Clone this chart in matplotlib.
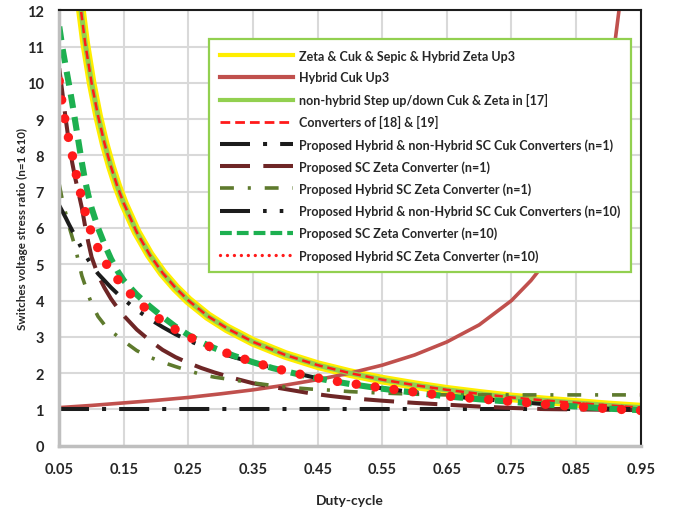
import matplotlib
matplotlib.use("Agg")
import matplotlib.pyplot as plt
from matplotlib.lines import Line2D

plt.rcParams['font.family'] = ['Lato', 'DejaVu Sans']
plt.rcParams['font.weight'] = 'bold'
plt.rcParams['axes.labelweight'] = 'bold'
plt.rcParams['lines.scale_dashes'] = False

# duty cycle grid used by the SC curves
duty = [0.05, 0.055, 0.06, 0.065, 0.07, 0.075, 0.08, 0.085, 0.09, 0.095, 0.10,
        0.11, 0.12, 0.13, 0.14, 0.15, 0.17, 0.19, 0.21, 0.23, 0.25, 0.27, 0.29,
        0.32, 0.35, 0.38, 0.41, 0.44, 0.47, 0.50, 0.55, 0.60, 0.65, 0.70, 0.75,
        0.80, 0.85, 0.90, 0.95]

# Zeta & Cuk & Sepic, [17], [18]&[19] (same curve)
duty_std = [0.08, 0.09, 0.10, 0.11, 0.12, 0.13, 0.14, 0.15, 0.17, 0.19, 0.21,
            0.23, 0.25, 0.28, 0.31, 0.35, 0.40, 0.45, 0.50, 0.55, 0.60, 0.65,
            0.70, 0.75, 0.80, 0.85, 0.90, 0.95]
v_std = [12.5, 11.1, 10.0, 9.09, 8.33, 7.69, 7.14, 6.67, 5.88, 5.26, 4.76,
         4.35, 4.0, 3.57, 3.23, 2.86, 2.5, 2.22, 2.0, 1.82, 1.67, 1.54,
         1.43, 1.33, 1.25, 1.18, 1.11, 1.05]

# Hybrid Cuk Up3
duty_up3 = [0.05, 0.10, 0.15, 0.20, 0.25, 0.30, 0.35, 0.40, 0.45, 0.50, 0.55,
            0.60, 0.65, 0.70, 0.75, 0.78, 0.80, 0.82, 0.84, 0.86, 0.88, 0.90,
            0.91, 0.92]
v_up3 = [1.05, 1.11, 1.18, 1.25, 1.33, 1.43, 1.54, 1.67, 1.82, 2.0, 2.22,
         2.5, 2.86, 3.33, 4.0, 4.55, 5.0, 5.56, 6.25, 7.14, 8.33, 10.0,
         11.1, 12.5]

duty_cuk1 = [0.05, 0.25, 0.50, 0.75, 0.95]
v_cuk1 = [1.0, 1.0, 1.0, 1.0, 1.0]

v_zeta1 = [10.4, 9.7, 9.0, 8.35, 7.8, 7.35, 6.95, 6.55, 6.05, 5.6, 5.2,
           4.7, 4.35, 4.05, 3.8, 3.58, 3.2, 2.9, 2.64, 2.44, 2.28, 2.14, 2.02,
           1.86, 1.72, 1.62, 1.53, 1.44, 1.37, 1.31, 1.24, 1.18, 1.13, 1.08, 1.04,
           1.01, 1.0, 0.99, 0.98]

v_hzeta1 = [7.2, 6.75, 6.4, 6.05, 5.75, 5.45, 5.05, 4.68, 4.42, 4.15, 3.92,
            3.56, 3.33, 3.16, 3.02, 2.88, 2.62, 2.44, 2.30, 2.18, 2.07, 1.96, 1.89,
            1.81, 1.73, 1.66, 1.60, 1.56, 1.53, 1.49, 1.45, 1.42, 1.40, 1.40, 1.40,
            1.40, 1.40, 1.40, 1.40]

v_cuk10 = [6.62, 6.45, 6.28, 6.1, 5.93, 5.77, 5.6, 5.42, 5.27, 5.12, 4.98,
           4.74, 4.55, 4.36, 4.19, 4.03, 3.74, 3.49, 3.27, 3.07, 2.90, 2.75, 2.61,
           2.44, 2.29, 2.15, 2.02, 1.90, 1.80, 1.71, 1.58, 1.47, 1.37, 1.29, 1.22,
           1.145, 1.08, 1.02, 0.98]

v_zeta10 = [11.55, 10.95, 10.45, 9.96, 9.45, 8.9, 8.35, 7.8, 7.3, 6.9, 6.55,
            6.0, 5.55, 5.15, 4.82, 4.55, 4.16, 3.84, 3.55, 3.28, 3.05, 2.85, 2.69,
            2.48, 2.30, 2.14, 2.01, 1.89, 1.79, 1.70, 1.57, 1.46, 1.36, 1.28, 1.21,
            1.14, 1.08, 1.02, 0.98]

v_hzeta10 = [10.05, 9.35, 8.85, 8.42, 8.02, 7.58, 7.18, 6.8, 6.45, 6.12, 5.86,
             5.44, 5.09, 4.81, 4.59, 4.38, 3.99, 3.69, 3.43, 3.20, 3.01, 2.83, 2.68,
             2.48, 2.31, 2.15, 2.02, 1.90, 1.80, 1.72, 1.59, 1.48, 1.37, 1.29, 1.22,
             1.145, 1.08, 1.02, 0.97]

labels = ['Zeta & Cuk & Sepic & Hybrid Zeta Up3',
          'Hybrid Cuk Up3',
          'non-hybrid Step up/down Cuk & Zeta in [17]',
          'Converters of [18] & [19]',
          'Proposed Hybrid & non-Hybrid SC Cuk Converters (n=1)',
          'Proposed SC Zeta Converter (n=1)',
          'Proposed Hybrid SC Zeta Converter (n=1)',
          'Proposed Hybrid & non-Hybrid SC Cuk Converters (n=10)',
          'Proposed SC Zeta Converter (n=10)',
          'Proposed Hybrid SC Zeta Converter (n=10)']

c_yellow = '#FFEE00'
c_up3 = '#C0504D'
c_lgreen = '#92D050'
c_red = '#FF1A1A'
c_black = '#1C1C1C'
c_brown = '#6E2626'
c_olive = '#5E7A2D'
c_green = '#1DB050'

ls_cuk1 = (0, (21.6, 9.4, 2.9, 9.4))
ls_zeta1 = (0, (21.6, 9.6))
ls_hzeta1 = (0, (10.0, 10.0, 2.2, 10.0))
ls_cuk10 = (0, (21.6, 9.4, 2.6, 9.4, 2.6, 9.4))

fig = plt.figure(figsize=(6.79, 5.10), dpi=100)
ax = fig.add_axes([0.0873, 0.1241, 0.8563, 0.8539])

ax.plot(duty_std, v_std, color=c_yellow, lw=7.0, solid_capstyle='butt')
ax.plot(duty_up3, v_up3, color=c_up3, lw=2.6)
ax.plot(duty_std, v_std, color=c_lgreen, lw=3.6)
ax.plot(duty_std, v_std, color=c_red, lw=1.8, ls=(0, (6.0, 3.4)))
ax.plot(duty_cuk1, v_cuk1, color=c_black, lw=2.9, ls=ls_cuk1)
ax.plot(duty, v_zeta1, color=c_brown, lw=2.9, ls=ls_zeta1)
ax.plot(duty, v_hzeta1, color=c_olive, lw=2.6, ls=ls_hzeta1)
ax.plot(duty, v_cuk10, color=c_black, lw=2.9, ls=ls_cuk10)
ax.plot(duty, v_zeta10, color=c_green, lw=4.4, ls=(0, (10.0, 6.5)))
ax.plot(duty, v_hzeta10, color=c_red, lw=6.8, ls=(0, (0.01, 13.7)),
        dash_capstyle='round')

ax.set_xlim(0.05, 0.95)
ax.set_ylim(0, 12)
ax.set_xticks([0.05, 0.15, 0.25, 0.35, 0.45, 0.55, 0.65, 0.75, 0.85, 0.95])
ax.set_xticklabels(['0.05', '0.15', '0.25', '0.35', '0.45', '0.55', '0.65',
                    '0.75', '0.85', '0.95'])
ax.set_yticks(range(0, 13))
ax.grid(True, color='#D9D9D9', lw=1.5)
ax.set_axisbelow(True)
ax.tick_params(length=0, labelsize=10.5, colors='#262626')
ax.tick_params(axis='x', pad=12)
ax.tick_params(axis='y', pad=11)
for side in ['left', 'bottom']:
    ax.spines[side].set_color('#BFBFBF')
    ax.spines[side].set_linewidth(2.5)
for side in ['top', 'right']:
    ax.spines[side].set_color('#1C1C1C')
    ax.spines[side].set_linewidth(1.5)

ax.set_xlabel('Duty-cycle', fontsize=10, color='#262626', labelpad=13)
ax.set_ylabel('Switches voltage stress ratio (n=1 &10)', fontsize=8.4,
              color='#262626')
ax.yaxis.set_label_coords(-0.054, 0.5)

handles = [
    Line2D([], [], color=c_yellow, lw=3.0),
    Line2D([], [], color=c_up3, lw=3.0),
    Line2D([], [], color=c_lgreen, lw=3.0),
    Line2D([], [], color=c_red, lw=2.0, ls=(0, (7.0, 3.6))),
    Line2D([], [], color=c_black, lw=2.9, ls=ls_cuk1),
    Line2D([], [], color=c_brown, lw=2.9, ls=ls_zeta1),
    Line2D([], [], color=c_olive, lw=2.6, ls=ls_hzeta1),
    Line2D([], [], color=c_black, lw=2.9, ls=ls_cuk10),
    Line2D([], [], color=c_green, lw=3.0, ls=(0, (8.5, 3.6))),
    Line2D([], [], color=c_red, lw=2.4, ls=(0, (0.01, 5.0)),
           dash_capstyle='round'),
]
leg = ax.legend(handles, labels, loc='upper left',
                bbox_to_anchor=(0.2575, 0.9334), borderaxespad=0,
                fontsize=9, handlelength=5.85, handletextpad=0.5,
                labelspacing=0.76, borderpad=0.85, fancybox=False,
                framealpha=1, edgecolor=c_lgreen)
leg.get_frame().set_linewidth(1.6)
for t in leg.get_texts():
    t.set_color('#262626')

fig.savefig('out.png', dpi=100)
